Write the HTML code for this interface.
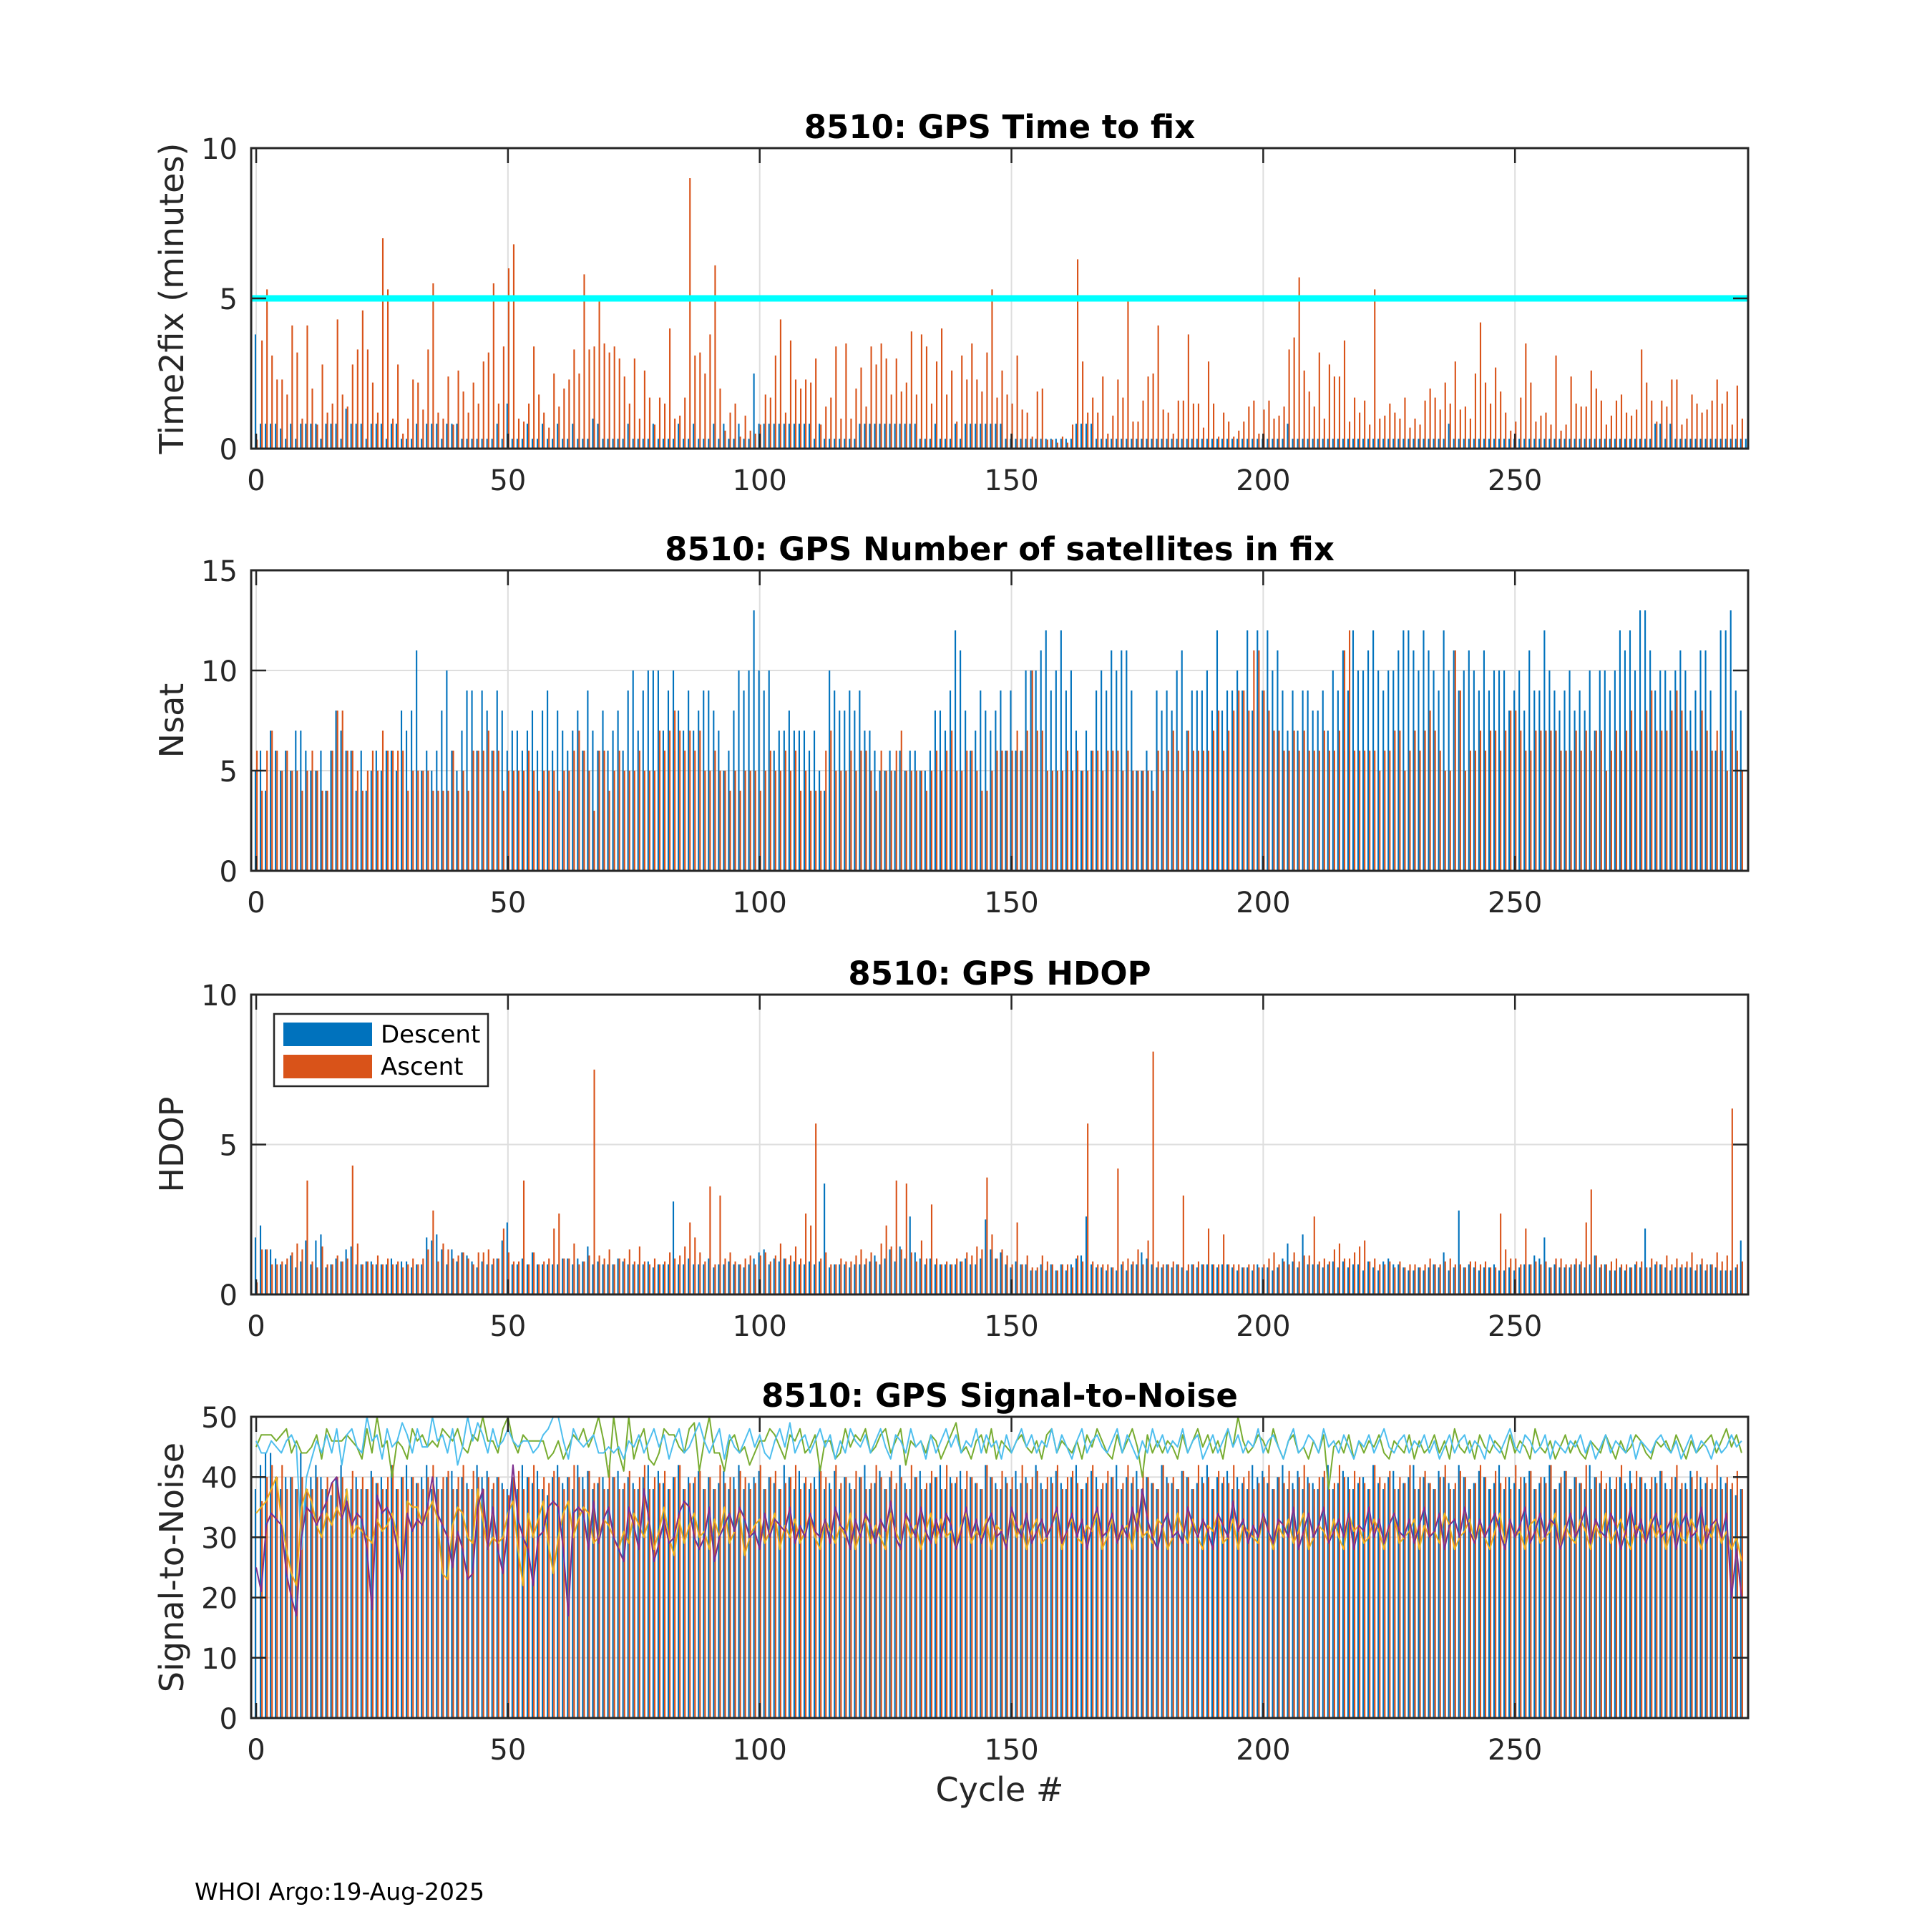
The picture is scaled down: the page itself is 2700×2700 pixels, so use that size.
<!DOCTYPE html>
<html><head><meta charset="utf-8"><style>
html,body{margin:0;padding:0;background:#fff;}
svg{display:block;font-family:"DejaVu Sans","Liberation Sans",sans-serif;}
</style></head><body>
<svg id="fig" width="2700" height="2700" viewBox="0 0 2700 2700" xmlns="http://www.w3.org/2000/svg">
<rect x="0" y="0" width="2700" height="2700" fill="#fff"/>
<text x="272" y="2655" font-size="33" fill="#000">WHOI Argo:19-Aug-2025</text>
<text x="1397" y="2517" font-size="46" fill="#262626" text-anchor="middle">Cycle #</text>
</svg>
<script>
const t2fDesc=[3.8,0.83,0.83,0.83,0.83,0.67,0.33,0.83,0.33,0.83,0.83,0.83,0.83,0.33,0.83,0.83,0.83,0.33,1.33,0.83,0.83,0.83,0.33,0.83,0.83,0.83,0.33,0.83,0.83,0.33,0.33,0.33,0.83,0.33,0.83,0.83,0.83,0.33,0.83,0.83,0.83,0.33,0.33,0.33,0.33,0.33,0.33,0.33,0.83,0.33,1.5,0.33,0.33,0.33,0.83,0.33,0.33,0.83,0.33,0.33,0.83,0.33,0.33,0.83,0.33,0.33,0.33,1.0,0.83,0.33,0.33,0.33,0.33,0.33,0.83,0.33,0.33,0.33,0.33,0.83,0.33,0.33,0.33,0.33,0.83,0.33,0.33,0.83,0.33,0.33,0.33,0.83,0.33,0.83,0.33,0.33,0.83,0.33,0.33,2.5,0.83,0.83,0.83,0.83,0.83,0.83,0.83,0.83,0.83,0.83,0.83,0.33,0.83,0.33,0.33,0.33,0.33,0.33,0.33,0.33,0.83,0.83,0.83,0.83,0.83,0.83,0.83,0.83,0.83,0.83,0.83,0.83,0.33,0.33,0.33,0.83,0.33,0.33,0.33,0.83,0.33,0.83,0.83,0.83,0.83,0.83,0.83,0.83,0.83,0.33,0.33,0.33,0.33,0.33,0.33,0.33,0.33,0.33,0.33,0.33,0.33,0.33,0.33,0.83,0.83,0.83,0.83,0.33,0.33,0.33,0.33,0.33,0.33,0.33,0.33,0.33,0.33,0.33,0.33,0.33,0.33,0.33,0.33,0.33,0.33,0.33,0.33,0.33,0.33,0.33,0.33,0.33,0.33,0.33,0.33,0.33,0.33,0.33,0.33,0.33,0.33,0.33,0.33,0.33,0.33,0.83,0.33,0.33,0.33,0.33,0.33,0.33,0.33,0.33,0.33,0.33,0.33,0.33,0.33,0.33,0.33,0.33,0.33,0.33,0.33,0.33,0.33,0.33,0.33,0.33,0.33,0.33,0.33,0.33,0.33,0.33,0.33,0.83,0.33,0.33,0.33,0.33,0.33,0.33,0.33,0.33,0.33,0.33,0.33,0.33,0.33,0.33,0.33,0.33,0.33,0.33,0.33,0.33,0.33,0.33,0.33,0.33,0.33,0.33,0.33,0.33,0.33,0.33,0.33,0.33,0.33,0.33,0.33,0.33,0.33,0.33,0.33,0.33,0.83,0.83,0.33,0.83,0.33,0.33,0.33,0.33,0.33,0.33,0.33,0.33,0.33,0.33,0.33,0.33,0.33,0.33,0.33];
const t2fAsc=[0.3,3.6,5.3,3.1,2.3,2.3,1.8,4.1,3.2,1.0,4.1,2.0,0.8,2.8,1.2,1.5,4.3,1.8,1.4,2.8,3.3,4.6,3.3,2.2,1.2,7.0,5.3,1.0,2.8,0.5,1.0,2.3,2.2,1.3,3.3,5.5,1.2,1.0,2.4,0.8,2.6,1.9,1.2,2.2,1.5,2.9,3.2,5.5,1.5,3.4,6.0,6.8,1.0,0.9,1.5,3.4,1.8,1.2,0.7,2.5,1.4,2.0,2.3,3.3,2.5,5.8,3.3,3.4,4.9,3.5,3.2,3.4,3.0,2.4,1.5,3.0,1.0,2.6,1.7,0.8,1.7,1.5,4.0,1.0,1.1,1.7,9.0,3.1,3.2,2.5,3.8,6.1,2.0,0.6,1.2,1.5,0.4,1.1,0.6,0.5,0.8,1.8,1.7,3.1,4.3,1.2,3.6,2.3,2.0,2.3,2.2,3.0,0.8,1.4,1.7,3.4,1.0,3.5,1.0,2.0,2.7,1.4,3.4,2.8,3.5,3.0,1.8,3.0,1.9,2.2,3.9,1.8,3.8,3.4,1.5,2.9,4.0,1.8,2.6,0.9,3.1,2.3,3.5,2.3,1.9,3.2,5.3,1.7,2.6,1.8,1.5,3.1,1.3,1.2,0.4,1.9,2.0,0.3,0.3,0.2,0.4,0.2,0.8,6.3,2.9,1.2,1.7,1.2,2.4,0.5,1.1,2.3,1.7,4.9,0.9,0.9,1.6,2.4,2.5,4.1,1.3,1.2,0.5,1.6,1.6,3.8,1.5,1.5,0.7,2.9,1.5,0.4,1.2,0.9,0.4,0.6,0.9,1.4,1.6,0.5,1.3,1.6,1.0,1.1,1.4,3.3,3.7,5.7,2.6,1.9,1.4,3.2,1.0,2.8,2.4,2.4,3.6,0.9,1.7,1.2,1.6,0.8,5.3,1.0,1.1,1.5,1.2,1.0,1.7,0.7,1.0,0.8,1.6,2.0,1.7,1.3,2.2,1.5,2.9,1.3,1.4,1.0,2.5,4.2,2.2,1.5,2.7,1.9,1.2,0.6,0.9,1.7,3.5,2.2,0.9,1.1,1.2,0.8,3.1,0.6,0.8,2.4,1.5,1.4,1.4,2.6,2.0,1.6,0.8,1.1,1.6,1.8,1.2,1.1,1.3,3.3,2.2,1.6,0.9,1.6,1.4,2.3,2.3,0.8,1.0,1.8,1.5,1.2,1.3,1.6,2.3,1.5,1.9,0.8,2.1,1.0];
const nsatDesc=[5,6,4,7,6,5,6,5,7,7,6,5,5,6,4,6,8,7,6,6,4,6,4,5,6,5,6,6,5,8,7,8,11,5,6,5,6,8,10,6,5,7,9,9,6,9,8,6,9,8,6,7,7,6,7,8,6,8,9,6,8,7,6,7,8,6,9,7,6,8,6,7,8,6,9,10,7,9,10,10,10,7,9,10,8,7,9,7,8,9,9,8,7,5,6,8,10,9,10,13,10,9,10,6,7,7,8,7,7,7,6,7,5,4,10,9,8,8,9,8,9,7,7,6,5,5,6,5,6,5,6,6,5,5,6,8,8,7,9,12,11,8,6,7,9,8,7,8,9,6,9,6,6,10,10,10,11,12,9,10,12,9,10,7,5,7,6,9,10,9,11,10,11,11,9,5,5,6,5,9,8,9,8,10,11,7,9,9,9,10,8,12,8,9,9,10,9,12,8,12,9,12,10,11,9,7,9,7,9,9,8,8,9,7,10,9,11,9,12,10,10,11,12,10,9,10,10,11,12,12,11,10,12,11,10,9,12,10,11,9,10,11,10,9,11,9,10,10,10,8,9,10,8,11,9,9,12,10,9,8,9,10,8,9,8,10,7,10,10,9,10,12,11,12,10,13,13,11,9,10,10,9,10,11,10,8,9,11,11,9,6,12,12,13,9,8];
const nsatAsc=[6,4,6,7,6,5,6,5,5,4,5,6,5,4,4,6,8,8,6,6,5,4,5,6,5,7,6,6,6,6,4,5,5,5,5,4,4,4,4,6,4,5,4,6,6,6,7,6,6,4,5,5,5,5,6,5,4,5,5,5,4,5,5,6,7,6,5,3,6,6,4,5,6,5,5,5,6,5,5,5,7,6,7,8,7,6,7,6,7,5,5,6,5,5,4,5,4,5,5,5,4,5,6,5,5,6,5,6,4,5,4,4,4,6,7,5,5,5,6,5,6,6,5,4,6,5,5,6,7,5,5,5,5,4,5,6,5,6,7,5,5,6,6,5,4,4,5,6,6,6,6,7,6,7,10,7,7,5,5,5,5,6,5,6,5,5,6,6,5,6,6,6,5,6,5,5,5,5,4,6,5,6,7,6,5,7,6,6,6,6,7,8,6,7,8,9,9,8,11,11,9,8,7,7,6,6,7,6,7,6,6,6,7,6,6,7,11,12,6,6,6,6,6,5,6,6,7,7,5,6,7,6,7,8,7,6,5,5,11,9,5,6,6,7,6,7,7,6,7,8,8,7,6,6,7,7,7,7,7,6,6,6,7,6,7,6,7,7,5,6,7,6,7,8,6,7,8,9,7,7,7,8,9,8,7,6,6,8,7,6,7,6,5,7,6,5];
const hdopDesc=[1.9,2.3,1.5,1.5,1.2,1.0,1.0,1.3,0.9,1.1,1.8,1.0,1.8,2.0,0.9,1.0,1.2,1.1,1.5,1.6,1.0,1.0,1.1,1.1,1.0,1.0,1.0,1.2,1.0,1.1,1.1,0.9,1.0,1.0,1.9,1.8,2.0,1.5,1.0,1.5,1.1,1.4,1.3,1.1,0.9,1.1,1.0,1.0,1.2,1.8,2.4,1.0,1.0,1.2,1.0,1.4,1.0,1.0,1.0,1.0,1.0,1.2,1.2,1.0,1.2,1.1,1.6,1.0,1.1,1.0,1.0,1.0,1.2,1.1,1.0,1.0,1.0,1.0,1.1,0.9,1.0,1.0,1.0,3.1,1.0,1.0,1.2,1.0,1.0,1.0,1.2,0.9,1.0,1.0,1.1,1.0,1.0,0.9,1.0,1.2,1.4,1.5,1.0,1.2,1.1,1.2,1.0,1.1,1.0,1.0,1.1,1.0,1.1,3.7,0.9,1.0,1.0,1.0,0.9,1.0,1.0,1.0,1.1,1.3,1.0,1.2,1.5,1.1,1.6,1.2,2.6,1.4,1.2,1.0,1.2,1.0,1.0,1.0,1.0,1.0,1.1,1.2,1.0,1.0,1.2,2.5,1.5,1.2,1.4,1.0,0.9,1.1,1.0,1.0,0.8,0.8,1.0,0.8,1.0,0.8,1.0,0.8,1.0,1.2,1.3,2.6,1.0,0.9,0.9,0.8,0.9,0.8,1.0,0.8,1.0,1.0,1.4,1.2,1.0,0.9,0.9,1.0,0.9,1.0,0.9,0.8,1.0,0.9,1.0,1.0,1.0,0.9,1.0,1.0,0.9,0.8,0.9,0.9,0.8,1.0,0.9,0.9,0.8,0.9,1.2,1.7,1.1,0.9,2.0,1.0,1.0,1.0,0.9,1.0,1.1,0.9,1.1,0.9,1.0,1.0,0.8,1.1,0.9,0.8,1.1,1.2,1.0,1.0,0.9,0.8,0.8,0.9,0.8,0.9,1.0,0.9,1.4,0.8,0.9,2.8,0.9,1.0,0.9,0.8,0.9,0.9,1.0,0.8,0.8,0.9,0.8,0.9,1.0,1.0,1.3,1.2,1.9,0.9,1.0,0.9,0.9,0.9,1.0,1.0,0.9,1.0,1.3,0.9,1.0,0.8,0.8,0.9,0.8,0.9,1.0,0.9,2.2,0.9,1.0,1.0,0.9,0.8,0.9,0.9,0.9,0.9,0.8,1.0,0.8,1.0,0.9,0.8,0.8,0.8,0.9,1.8];
const hdopAsc=[0.4,1.5,1.5,1.0,1.0,1.1,1.2,1.4,1.7,1.5,3.8,1.1,0.9,1.6,1.0,1.0,1.3,1.1,1.2,4.3,1.7,1.0,1.1,1.0,1.3,1.0,1.2,1.0,1.1,0.9,1.0,1.2,1.0,1.2,1.5,2.8,1.1,1.7,1.5,1.2,1.3,1.4,1.2,1.0,1.4,1.4,1.5,1.2,1.2,2.2,1.4,1.1,1.1,3.8,1.0,1.4,1.0,1.1,1.2,2.2,2.7,1.2,1.2,1.7,1.0,1.1,1.3,7.5,1.3,1.2,1.5,1.0,1.2,1.2,1.5,1.1,1.6,1.1,1.0,1.2,1.0,1.1,1.4,1.2,1.3,1.6,2.4,1.9,1.4,1.1,3.6,1.0,3.3,1.2,1.4,1.1,1.0,1.2,1.3,1.0,1.3,1.4,1.1,1.3,1.7,1.2,1.3,1.6,1.2,2.7,2.3,5.7,1.2,1.4,1.0,1.0,1.2,1.1,1.1,1.3,1.5,1.2,1.4,1.1,1.7,2.3,1.6,3.8,1.5,3.7,1.4,1.1,1.8,1.2,3.0,1.2,1.0,1.1,1.0,1.2,1.1,1.4,1.3,1.6,1.5,3.9,2.0,1.2,1.5,1.3,1.0,2.4,1.0,1.3,0.9,0.9,1.3,1.1,1.0,0.8,1.0,1.0,0.9,1.3,1.1,5.7,1.1,1.0,1.0,1.0,0.9,4.2,1.1,1.2,1.1,1.5,1.0,1.8,8.1,1.1,1.0,1.0,1.1,1.0,3.3,1.0,1.0,1.1,1.0,2.2,1.0,1.0,2.0,1.0,1.0,1.0,0.9,1.0,1.0,0.9,1.0,1.2,1.4,1.0,1.1,1.0,1.4,1.1,1.3,1.3,2.6,1.1,1.2,1.1,1.5,1.7,1.2,1.2,1.4,1.6,1.8,1.1,1.2,1.0,1.0,1.1,0.9,1.1,0.9,1.0,1.0,0.9,1.0,1.2,1.0,1.0,1.1,1.2,1.0,1.0,0.9,1.1,1.1,1.0,1.1,0.9,0.9,2.7,1.5,1.2,1.2,1.0,2.2,1.0,1.1,1.0,1.1,0.9,1.2,1.2,1.0,1.0,1.2,1.1,2.4,3.5,1.3,1.0,1.0,1.1,1.2,1.0,1.0,0.9,1.1,1.1,0.9,1.2,1.1,1.0,1.3,1.0,1.2,1.0,1.1,1.4,1.0,1.2,1.0,1.0,1.4,1.1,1.3,6.2,1.0,1.1];
const snrDesc=[38,42,44,44,40,38,40,40,38,44,38,40,42,40,38,37,40,42,38,38,40,38,38,41,39,40,38,42,38,40,42,40,39,40,42,38,40,38,40,41,38,40,39,38,42,40,41,38,40,39,38,40,38,42,40,39,41,38,37,40,42,39,40,38,42,40,41,38,39,40,38,40,41,38,40,39,38,40,42,38,41,39,38,40,42,38,40,39,41,38,40,38,39,41,38,40,42,38,39,40,41,38,40,39,38,42,40,38,41,39,38,40,42,38,39,41,38,40,39,38,40,42,38,39,41,38,40,38,42,39,38,40,41,38,39,40,42,38,40,39,41,38,40,39,38,42,40,39,38,40,38,41,39,40,38,42,39,38,40,41,39,38,40,42,38,39,41,40,38,39,40,42,38,40,39,41,38,40,39,38,42,40,39,38,41,40,38,39,40,42,38,40,39,41,38,40,39,38,42,40,41,39,38,40,42,38,39,41,38,40,39,38,40,42,38,39,41,40,38,39,40,38,42,39,38,40,41,38,39,40,42,38,40,39,38,41,40,39,38,42,40,38,39,41,40,38,39,42,38,40,39,38,40,41,38,39,40,42,38,39,41,38,40,39,38,42,40,39,38,40,38,40,39,41,38,40,39,38,40,41,39,38,40,38,39,41,38,40,39,38,38,40,39,38,37,38];
const snrAsc=[0,36,40,42,40,42,38,40,38,40,38,38,40,38,40,39,40,40,36,41,38,40,38,40,39,38,40,42,38,40,38,40,39,38,40,42,38,40,41,38,40,42,38,41,40,38,40,39,40,38,37,40,41,38,40,42,38,40,39,41,40,38,40,42,40,38,41,39,40,38,42,40,38,39,41,38,40,42,38,40,39,41,38,40,42,38,39,40,41,38,40,38,42,39,40,38,41,40,38,39,42,38,40,41,38,39,40,42,38,40,39,38,41,40,38,42,39,40,38,41,40,38,39,42,40,38,41,39,40,38,42,40,38,39,41,40,38,42,39,40,38,41,40,39,38,42,40,38,41,39,40,38,42,39,40,41,38,40,39,42,38,40,41,39,38,40,42,38,39,41,40,38,39,42,40,38,41,40,39,38,42,39,40,38,41,40,38,42,39,40,38,41,40,39,42,38,40,41,38,39,40,42,38,40,39,41,38,40,42,39,38,40,41,38,39,42,40,38,41,40,39,38,42,40,39,41,38,40,39,42,38,40,41,39,38,40,42,38,39,41,40,38,39,42,40,38,41,39,40,38,42,40,39,41,38,40,39,42,38,40,41,38,40,39,42,38,40,41,39,38,40,42,38,39,41,40,38,40,39,41,38,40,42,39,38,40,41,38,40,39,42,38,40,39,41,38];
const snrGreen=[45,47,47,47,46,47,48,44,46,44,44,45,47,43,48,46,46,46,47,46,45,43,48,44,50,45,46,40,46,45,43,48,46,47,45,46,45,48,47,46,48,45,44,47,46,50,46,46,44,48,50,46,44,47,46,46,46,46,43,44,46,43,45,47,46,48,45,47,50,46,40,50,44,41,50,43,46,48,43,42,44,48,47,47,45,44,48,49,41,46,50,44,44,41,46,47,44,45,42,44,46,46,48,47,45,43,47,46,48,44,45,47,41,46,46,43,44,48,45,47,46,48,44,45,47,48,44,46,48,42,46,45,46,44,47,46,43,45,47,49,44,45,43,46,47,44,48,43,46,45,44,46,47,45,44,46,43,47,48,44,46,45,44,46,43,47,45,48,46,44,43,47,44,46,48,45,40,47,44,46,44,46,45,43,47,44,46,48,45,47,44,46,43,48,45,50,46,44,45,47,46,44,48,45,43,46,47,44,45,43,46,44,47,38,45,46,44,47,43,46,44,46,45,47,44,43,46,45,44,47,43,46,44,45,47,44,46,43,48,45,44,46,43,47,45,44,46,45,43,47,44,46,45,43,48,45,44,46,43,45,47,44,46,44,43,46,45,44,47,45,43,46,44,45,47,46,44,43,46,45,46,44,47,45,43,46,44,45,46,47,44,46,48,45,47,44];
const snrLightBlue=[46,44,44,46,45,44,46,47,45,28,40,43,46,44,47,44,48,42,47,48,45,44,50,46,47,43,48,45,46,49,47,44,48,45,45,50,46,47,44,48,42,45,50,46,49,47,44,48,45,46,48,46,45,46,46,44,45,47,48,50,50,46,43,48,46,45,46,47,44,44,45,44,45,43,46,45,47,44,46,48,45,47,43,46,48,44,45,47,49,46,44,46,48,43,47,45,44,46,48,45,47,44,43,46,48,45,49,44,46,47,44,46,48,45,47,43,46,44,48,46,45,47,44,46,48,45,43,47,46,44,48,45,46,43,47,44,46,48,45,47,44,46,45,48,44,47,45,46,43,47,44,46,48,45,47,44,46,45,48,44,47,45,43,46,48,44,46,47,45,44,46,48,44,47,45,43,46,44,48,45,47,44,46,45,48,44,46,47,43,45,47,44,46,48,45,47,44,46,45,48,44,46,47,45,43,46,48,44,45,47,46,44,48,45,46,44,47,45,43,46,45,47,44,46,48,45,44,46,47,44,46,45,47,44,46,43,45,47,44,46,47,44,46,45,43,47,45,44,46,48,45,44,47,46,44,45,47,43,46,45,44,46,45,47,44,46,43,45,47,44,46,45,44,47,43,46,45,44,46,47,45,44,46,43,45,47,44,46,45,43,46,44,45,47,45,46];
const snrPurple=[25,21,32,34,33,32,24,20,17,30,35,34,32,34,36,39,40,33,36,32,34,33,28,18,37,34,35,33,28,23,34,31,33,32,35,40,34,32,30,25,31,28,23,24,35,38,28,35,28,24,32,42,33,30,28,22,30,31,35,36,35,28,17,34,35,34,28,36,29,33,35,30,28,26,35,32,28,38,33,26,29,33,29,30,34,36,35,30,28,30,35,26,30,32,34,31,35,33,30,31,28,34,30,33,32,31,35,29,32,30,34,31,30,33,29,35,32,31,28,33,30,34,32,29,33,31,36,30,28,34,32,30,35,31,29,33,30,34,32,28,31,35,30,33,29,32,34,30,31,28,35,32,30,34,29,31,33,30,32,35,29,31,34,30,33,28,32,35,30,31,34,29,32,30,35,31,38,33,30,28,32,34,30,31,29,35,32,30,33,31,28,34,32,30,36,31,33,29,32,30,34,31,29,33,32,30,35,28,31,34,30,32,35,29,31,33,30,34,28,32,31,35,30,33,29,32,34,31,30,33,29,32,35,30,31,34,28,32,33,30,35,31,29,33,30,32,34,31,28,33,30,32,35,29,31,34,30,33,32,28,31,34,30,32,35,29,33,31,30,34,32,28,31,35,30,33,29,32,34,30,31,33,28,32,34,30,31,35,29,32,33,30,34,20,28,20];
const snrYellow=[34,35,36,38,40,33,28,24,22,35,38,36,32,30,34,32,35,33,38,30,32,31,30,29,33,31,32,34,30,23,36,35,35,32,34,36,33,24,23,32,35,34,30,29,38,33,28,30,29,30,34,36,28,22,34,30,33,36,29,24,30,34,36,30,33,35,34,29,30,33,32,30,28,31,29,34,32,30,33,28,31,35,30,27,33,29,32,34,30,31,28,33,30,35,29,31,34,27,30,32,33,29,31,34,28,32,30,33,29,31,34,30,28,33,31,29,32,30,34,28,31,33,29,32,30,28,34,31,29,33,30,32,28,31,34,29,33,30,31,28,32,34,29,31,30,33,28,32,31,29,34,30,32,28,31,33,29,30,32,34,28,31,33,30,29,32,31,34,28,30,33,29,31,32,28,34,30,31,29,33,32,28,30,34,31,29,33,30,28,32,31,34,29,30,33,28,32,31,30,29,34,31,28,32,30,33,29,31,34,28,30,32,31,29,33,30,28,34,31,32,29,30,33,31,28,32,34,29,30,31,33,28,32,30,31,29,34,32,28,30,31,33,29,32,30,28,31,34,29,33,30,31,28,32,33,29,30,31,34,28,32,30,29,33,31,28,32,30,34,29,31,33,30,28,32,31,29,33,30,32,28,31,34,30,29,33,31,28,32,30,33,29,31,28,30,26];
const xTicks=[0,50,100,150,200,250];

const NS='http://www.w3.org/2000/svg';
const svg=document.getElementById('fig');
const L=351,R=2443,XMIN=-1,XMAX=296.3;
function xs(v){return L+(v-XMIN)/(XMAX-XMIN)*(R-L);}
function mk(tag,attrs,parent){const e=document.createElementNS(NS,tag);for(const k in attrs)e.setAttribute(k,attrs[k]);(parent||svg).appendChild(e);return e;}
const C_D='#0072BD',C_A='#D95319',INK='#262626';

function panel(key,top,bot,ymax,yTicks,title,ylabel){
  const g=mk('g',{});
  
  
  const ys=v=>bot-(v/ymax)*(bot-top);
  for(const t of xTicks){const gl=mk('line',{x1:xs(t),x2:xs(t),y1:top,y2:bot,stroke:'#dedede','stroke-width':2},g);
    }
  for(const t of yTicks){if(t===0||t===ymax)continue;const gl=mk('line',{x1:L,x2:R,y1:ys(t),y2:ys(t),stroke:'#dedede','stroke-width':2},g);
    }
  const plot=mk('g',{},g);
  
  
  return {g,plot,ys,top,bot,ymax,yTicks,title,ylabel,key};
}
function bars(p,dArr,aArr){
  const w=0.3*(R-L)/(XMAX-XMIN);
  for(let i=0;i<dArr.length;i++){
    const v=Math.min(dArr[i],p.ymax);
    const r=mk('rect',{x:xs(i-0.15)-w/2,y:p.ys(v),width:w,height:p.bot-p.ys(v),fill:C_D},p.plot);
    
    
  }
  for(let i=0;i<aArr.length;i++){
    const v=Math.min(aArr[i],p.ymax);
    const r=mk('rect',{x:xs(i+0.15)-w/2,y:p.ys(v),width:w,height:p.bot-p.ys(v),fill:C_A},p.plot);
    
    
  }
}
function line(p,arr,color,name){
  let d='';
  for(let i=0;i<arr.length;i++){const v=Math.min(arr[i],p.ymax);d+=(i?'L':'M')+xs(i).toFixed(1)+' '+p.ys(v).toFixed(1);}
  const e=mk('path',{d:d,fill:'none',stroke:color,'stroke-width':2,'stroke-linejoin':'round'},p.plot);
  
  
}
function axes(p){
  const g=p.g;
  for(const t of xTicks){
    const tk=mk('path',{d:`M${xs(t)} ${p.bot}V${p.bot-21}M${xs(t)} ${p.top}V${p.top+21}`,stroke:INK,'stroke-width':2.5},g);
    
    const tl=mk('text',{x:xs(t),y:p.bot+58,'font-size':40,fill:INK,'text-anchor':'middle'},g);tl.textContent=t;
    
  }
  for(const t of p.yTicks){
    const y=p.ys(t);
    const tk=mk('path',{d:`M${L} ${y}H${L+21}M${R} ${y}H${R-21}`,stroke:INK,'stroke-width':2.5},g);
    
    const tl=mk('text',{x:332,y:y+15,'font-size':40,fill:INK,'text-anchor':'end'},g);tl.textContent=t;
    
  }
  const box=mk('rect',{x:L,y:p.top,width:R-L,height:p.bot-p.top,fill:'none',stroke:INK,'stroke-width':3},g);
  
  const tt=mk('text',{x:(L+R)/2,y:p.top-14,'font-size':45,'font-weight':'bold',fill:'#000','text-anchor':'middle'},g);
  tt.textContent=p.title;
  const cy=(p.top+p.bot)/2;
  const yl=mk('text',{x:256,y:cy,'font-size':46,fill:INK,'text-anchor':'middle',transform:`rotate(-90 256 ${cy})`},g);
  yl.textContent=p.ylabel;
}

const p1=panel('time-to-fix',207,627,10,[0,5,10],'8510: GPS Time to fix','Time2fix (minutes)');
bars(p1,t2fDesc,t2fAsc);
const ref=mk('line',{x1:L,x2:R,y1:p1.ys(5),y2:p1.ys(5),stroke:'#00FFFF','stroke-width':9},p1.plot);


axes(p1);
const p2=panel('nsat',797,1217,15,[0,5,10,15],'8510: GPS Number of satellites in fix','Nsat');
bars(p2,nsatDesc,nsatAsc);axes(p2);
const p3=panel('hdop',1390,1809,10,[0,5,10],'8510: GPS HDOP','HDOP');
bars(p3,hdopDesc,hdopAsc);axes(p3);
const lg=mk('g',{},p3.g);


mk('rect',{x:383,y:1417,width:299,height:101,fill:'#fff',stroke:INK,'stroke-width':2.5},lg);
const s1=mk('rect',{x:396,y:1429,width:124,height:33,fill:C_D},lg);

const s2=mk('rect',{x:396,y:1474,width:124,height:33,fill:C_A},lg);

const l1=mk('text',{x:532,y:1457,'font-size':34,fill:'#000'},lg);l1.textContent='Descent';

const l2=mk('text',{x:532,y:1502,'font-size':34,fill:'#000'},lg);l2.textContent='Ascent';

const p4=panel('snr',1980,2401,50,[0,10,20,30,40,50],'8510: GPS Signal-to-Noise','Signal-to-Noise');
bars(p4,snrDesc,snrAsc);
line(p4,snrGreen,'#77AC30','snr-line-green');
line(p4,snrLightBlue,'#4DBEEE','snr-line-lightblue');
line(p4,snrYellow,'#EDB120','snr-line-yellow');
line(p4,snrPurple,'#7E2F8E','snr-line-purple');
axes(p4);
</script>
</body></html>
